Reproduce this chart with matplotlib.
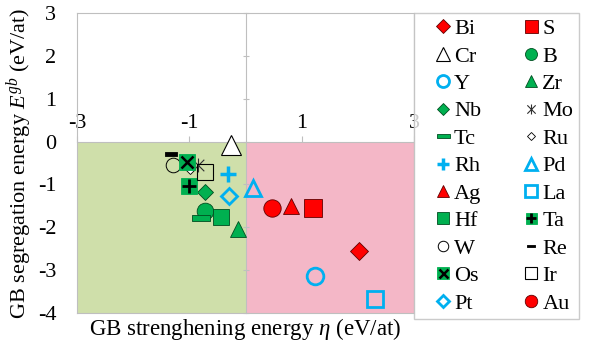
import matplotlib
matplotlib.use('Agg')
import matplotlib.pyplot as plt
from matplotlib.path import Path

plt.rcParams['font.family'] = 'Liberation Serif'
plt.rcParams['mathtext.fontset'] = 'custom'
plt.rcParams['mathtext.rm'] = 'Liberation Serif'
plt.rcParams['mathtext.it'] = 'Liberation Serif:italic'
plt.rcParams['axes.unicode_minus'] = False

# data
elements = ['Bi', 'S', 'Cr', 'B', 'Y', 'Zr', 'Nb', 'Mo', 'Tc', 'Ru', 'Rh',
            'Pd', 'Ag', 'La', 'Hf', 'Ta', 'W', 'Re', 'Os', 'Ir', 'Pt', 'Au']
eta = [2.02, 1.21, -0.25, -0.72, 1.23, -0.14, -0.72, -0.85, -0.80, -0.98, -0.31,
       0.13, 0.81, 2.31, -0.44, -1.01, -1.29, -1.32, -1.05, -0.72, -0.30, 0.47]
egb = [-2.56, -1.55, -0.07, -1.63, -3.14, -2.05, -1.18, -0.55, -1.79, -0.65, -0.75,
       -1.08, -1.51, -3.68, -1.75, -1.03, -0.54, -0.29, -0.48, -0.70, -1.28, -1.55]
x_ticks = [-3, -1, 1, 3]
y_ticks = [3, 2, 1, 0, -1, -2, -3, -4]

RED = '#ff0000'
GREEN = '#00b050'
BLUE = '#00b0f0'
GREY = '#bfbfbf'
FS = 16

star = Path([(-1, -1), (1, 1), (-1, 1), (1, -1), (0, -1.2), (0, 1.2)],
            [Path.MOVETO, Path.LINETO] * 3)
dash = Path([(-1, -0.28), (1, -0.28), (1, 0.28), (-1, 0.28), (-1, -0.28)],
            [Path.MOVETO, Path.LINETO, Path.LINETO, Path.LINETO, Path.CLOSEPOLY])

# marker, size, face, edge, edge width
styles = {
    'Bi': ('D', 9.2, RED, '#600000', 0.6),
    'S': ('s', 13, RED, '#600000', 0.6),
    'Cr': ('^', 14, 'white', 'black', 0.8),
    'B': ('o', 12, GREEN, '#004d20', 0.6),
    'Y': ('o', 12, 'none', BLUE, 2.0),
    'Zr': ('^', 12, GREEN, '#004d20', 0.6),
    'Nb': ('D', 8, GREEN, '#004d20', 0.6),
    'Mo': (star, 10, 'none', '#303030', 0.8),
    'Tc': (dash, 13, GREEN, '#004d20', 0.6),
    'Ru': ('D', 5.5, 'white', 'black', 0.6),
    'Rh': ('+', 12, BLUE, BLUE, 2.5),
    'Pd': ('^', 12, 'none', BLUE, 2.0),
    'Ag': ('^', 12, RED, '#600000', 0.6),
    'La': ('s', 12, 'none', BLUE, 2.0),
    'Hf': ('s', 11.5, GREEN, '#004d20', 0.6),
    'Ta': ('s', 11, GREEN, GREEN, 0.6),
    'W': ('o', 10.5, 'none', 'black', 0.7),
    'Re': (dash, 8.5, 'black', 'black', 0.6),
    'Os': ('s', 11.5, GREEN, GREEN, 0.6),
    'Ir': ('s', 12, 'none', 'black', 0.8),
    'Pt': ('D', 8.5, 'none', BLUE, 2.0),
    'Au': ('o', 12.5, RED, '#600000', 0.6),
}
overlay = {'Ta': ('+', 10, 'black', 2.0), 'Os': ('x', 9, 'black', 1.8)}

fig = plt.figure(figsize=(5.92, 3.49), dpi=100)
ax = fig.add_axes([77 / 592, 1 - 313 / 349, 337 / 592, 300 / 349])
ax.set_xlim(-3, 3)
ax.set_ylim(-4, 3)

ax.fill_between([-3, 0], -4, 0, color='#cfdfaa', lw=0, zorder=0)
ax.fill_between([0, 3], -4, 0, color='#f4b7c7', lw=0, zorder=0)

handles = {}
for i, name in enumerate(elements):
    m, ms, fc, ec, mew = styles[name]
    h, = ax.plot([eta[i]], [egb[i]], linestyle='none', marker=m, ms=ms,
                 mfc=fc, mec=ec, mew=mew, zorder=3 + i * 0.01)
    if name in overlay:
        om, oms, oc, omw = overlay[name]
        h2, = ax.plot([eta[i]], [egb[i]], linestyle='none', marker=om, ms=oms,
                      color=oc, mew=omw, zorder=3 + i * 0.01 + 0.005)
        h = (h, h2)
    handles[name] = h

# frame and centre axes
for s in ax.spines.values():
    s.set_color(GREY)
ax.set_xticks([])
ax.set_yticks(y_ticks)
ax.set_yticklabels([str(v) for v in y_ticks])
ax.tick_params(axis='y', length=0, pad=15, labelsize=FS)

secx = ax.secondary_xaxis(4 / 7)
secx.set_xticks(x_ticks)
secx.set_xticklabels([str(v) for v in x_ticks])
secx.tick_params(length=4, color=GREY, pad=2, labelsize=FS)
for s in secx.spines.values():
    s.set_color(GREY)

secy = ax.secondary_yaxis(0.5)
secy.set_yticks(y_ticks)
secy.set_yticklabels([])
secy.tick_params(length=5, direction='inout', color=GREY)
for s in secy.spines.values():
    s.set_color(GREY)

ax.set_xlabel(r'GB strenghening energy $\eta$ (eV/at)', fontsize=16.5, labelpad=2)
ax.set_ylabel(r'GB segregation energy $E^{gb}$ (eV/at)', fontsize=FS, labelpad=2)

order = elements[0::2] + elements[1::2]
leg = ax.legend([handles[n] for n in order], order, ncol=2, loc='upper left',
                bbox_to_anchor=(1, 1), borderaxespad=0, fontsize=FS,
                markerscale=0.72, handlelength=2.1, handletextpad=-0.55,
                columnspacing=1.2, labelspacing=0.31, borderpad=0.25,
                frameon=True, fancybox=False)
leg.get_frame().set_edgecolor(GREY)
leg.get_frame().set_linewidth(1.0)

fig.savefig('out.png', dpi=100)
